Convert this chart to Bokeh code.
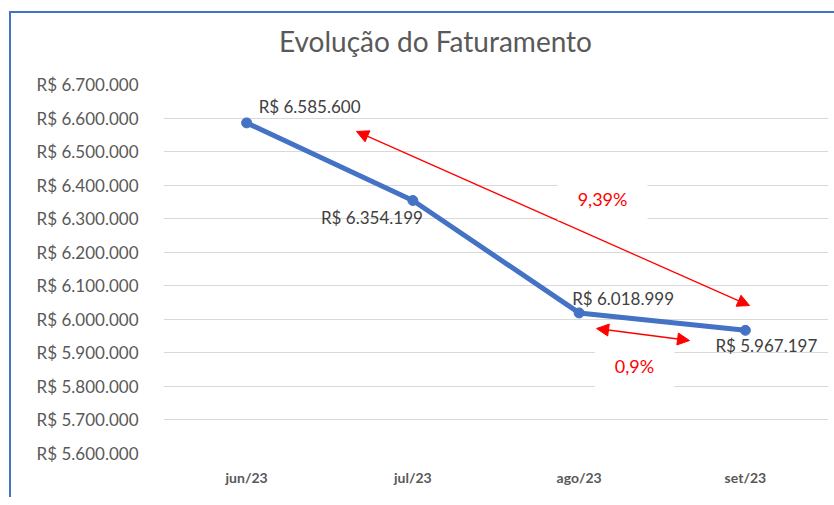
from bokeh.plotting import figure
from bokeh.layouts import column
from bokeh.models import (FactorRange, Range1d, FixedTicker, Arrow, NormalHead,
                          Label, ColumnDataSource, Div)
from bokeh.core.properties import value
from bokeh.embed import file_html
from bokeh.resources import INLINE

# ---- data ----
title_text = "Evolução do Faturamento"
months = ["jun/23", "jul/23", "ago/23", "set/23"]
revenue = [6585600, 6354199, 6018999, 5967197]
revenue_labels = ["R$ 6.585.600", "R$ 6.354.199", "R$ 6.018.999", "R$ 5.967.197"]

y_ticks = [5600000, 5700000, 5800000, 5900000, 6000000, 6100000,
           6200000, 6300000, 6400000, 6500000, 6600000, 6700000]
y_tick_labels = ["R$ 5.600.000", "R$ 5.700.000", "R$ 5.800.000", "R$ 5.900.000",
                 "R$ 6.000.000", "R$ 6.100.000", "R$ 6.200.000", "R$ 6.300.000",
                 "R$ 6.400.000", "R$ 6.500.000", "R$ 6.600.000", "R$ 6.700.000"]

pct_labels = ["9,39%", "0,9%"]

# ---- styling / placement (not data) ----
label_dx = [12, 10, -7, -30]
label_dy = [-16, 17, -14, 15]
label_align = ["left", "right", "left", "left"]

FONT = "Lato"
GRAY = "#595959"
BLUE = "#4472C4"
RED = "#FF0000"

title_div = Div(text=title_text, width=820, height=46,
                styles={"font-family": FONT, "font-size": "28px", "color": GRAY,
                        "line-height": "46px", "padding-left": "263px",
                        "white-space": "nowrap"})

p = figure(x_range=FactorRange(*months), y_range=Range1d(5600000, 6700000),
           width=820, height=428, output_backend="svg", toolbar_location=None,
           min_border_left=152, min_border_right=3, min_border_top=15,
           min_border_bottom=44)

p.outline_line_color = None
p.xgrid.grid_line_color = None
p.ygrid.grid_line_color = "#D9D9D9"
p.ygrid.grid_line_width = 1

p.yaxis.ticker = FixedTicker(ticks=y_ticks)
p.yaxis.major_label_overrides = {t: l for t, l in zip(y_ticks, y_tick_labels)}
p.yaxis.axis_line_color = None
p.yaxis.major_tick_line_color = None
p.yaxis.minor_tick_line_color = None
p.yaxis.major_label_text_font = FONT
p.yaxis.major_label_text_font_size = "17px"
p.yaxis.major_label_text_color = GRAY
p.yaxis.major_label_standoff = 19

p.xaxis.axis_line_color = None
p.xaxis.major_tick_line_color = None
p.xaxis.minor_tick_line_color = None
p.xaxis.major_label_text_font = FONT
p.xaxis.major_label_text_font_size = "14px"
p.xaxis.major_label_text_font_style = "bold"
p.xaxis.major_label_text_color = GRAY
p.xaxis.major_label_standoff = 9

src = ColumnDataSource(dict(x=months, y=revenue, lab=revenue_labels,
                            dx=label_dx, dy=label_dy, al=label_align))

p.line("x", "y", source=src, line_color=BLUE, line_width=5, line_join="round")
p.scatter("x", "y", source=src, size=10, fill_color=BLUE, line_color=BLUE)
p.text("x", "y", text="lab", source=src, x_offset="dx", y_offset="dy",
       text_align="al", text_baseline="middle", text_font=value(FONT),
       text_font_size="17px", text_color="#404040")

# ---- annotations: arrows and percentage labels (synthetic categorical x) ----
arrow_specs = [(1.161, 6560000, 3.525, 6041000), (2.605, 5972600, 3.164, 5936800)]
for xs, ys, xe, ye in arrow_specs:
    p.add_layout(Arrow(x_start=xs, y_start=ys, x_end=xe, y_end=ye,
                       line_color=RED, line_width=1.3,
                       start=NormalHead(size=12, fill_color=RED, line_color=RED, line_width=1),
                       end=NormalHead(size=12, fill_color=RED, line_color=RED, line_width=1)))

pct_pos = [(2.641, 6360000), (2.833, 5862300)]
for (lx, ly), txt in zip(pct_pos, pct_labels):
    p.add_layout(Label(x=lx, y=ly, text=txt, text_align="center", text_baseline="middle",
                       text_font=FONT, text_font_size="18px", text_color=RED,
                       background_fill_color="white",
                       padding=dict(left=20, right=20, top=11, bottom=11)))

layout = column(title_div, p, spacing=0,
                styles={"border-left": f"2px solid {BLUE}", "border-top": f"2px solid {BLUE}",
                        "margin-left": "9px", "margin-top": "11px"})

open("out.html", "w").write(file_html(layout, INLINE))
